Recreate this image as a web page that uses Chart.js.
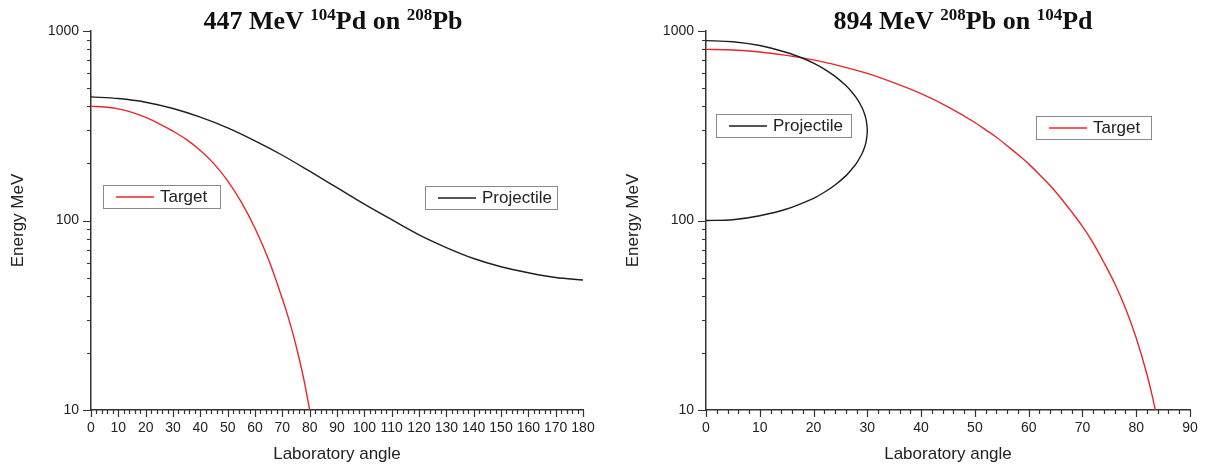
<!DOCTYPE html>
<html><head><meta charset="utf-8">
<script src="https://cdn.jsdelivr.net/npm/chart.js@4/dist/chart.umd.min.js"></script>
<style>
html,body{margin:0;padding:0;background:#fff;}
#left{position:absolute;left:0;top:0;width:600px;height:469px;}
#right{position:absolute;left:600px;top:0;width:609px;height:469px;}
</style></head><body>
<div id="left"><canvas id="c1"></canvas></div>
<div id="right"><canvas id="c2"></canvas></div>
<script>
// 447 MeV 104Pd on 208Pb
const leftProjAngle = [0,10,20,30,40,50,60,70,80,90,100,110,120,130,140,150,160,170,180];
const leftProjEnergy = [449,440,421,390,351,308,263,221,182,149,122,101,84,72,63,57,53,50,48.5];
const leftTargAngle = [0,5,10,15,20,25,30,35,40,45,50,55,60,65,70,72,74,76,78,80];
const leftTargEnergy = [400,397,388,372,350,324,296,267,234,199,162,125,91,62,38.6,31.4,24.9,19.1,14.2,10];

// 894 MeV 208Pb on 104Pd
const rightProjAngle = [0,5,10,15,18,20,22,24,26,27,28,29,29.5,29.8,30,29.8,29.5,29,28,27,26,24,22,20,15,10,5,0];
const rightProjEnergy = [890,878,838,770,718,676,629,576,516,481,442,395,364,338,298,263,244,225,201,185,172,154,141,131,115,106,101,100];
const rightTargAngle = [0,5,10,15,20,25,30,35,40,45,50,52,54,56,58,60,62,64,66,68,70,72,74,76,78,80,82,83,84];
const rightTargEnergy = [800,794,775,744,704,653,597,532,467,398,329,301,275,248,223,199,175,153,131,111,93,76,60,46.5,34.4,24,15.4,11.8,8.7];

const yTicks = [10,100,1000];

const RED = '#e8262e', BLACK = '#1e1e1e';

function pts(xs, ys){ return xs.map((x,i)=>({x:x, y:ys[i]})); }

const decor = {
  id:'decor',
  afterDraw(chart, args, o){
    const ctx = chart.ctx, xs = chart.scales.x, ys = chart.scales.y, a = chart.chartArea;
    ctx.save();
    ctx.strokeStyle = '#333'; ctx.lineWidth = 1.2;
    ctx.beginPath();
    for (let v = xs.min; v <= xs.max + 1e-9; v += 2) {
      const px = Math.round(xs.getPixelForValue(v)) + 0.5;
      const len = (Math.round(v) % 10 === 0) ? 7 : 4;
      ctx.moveTo(px, a.bottom); ctx.lineTo(px, a.bottom + len);
    }
    for (let d = 10; d <= 1000; d *= 10) {
      for (let m = 1; m < 10; m++) {
        const v = d*m; if (v > 1000) break;
        const py = Math.round(ys.getPixelForValue(v)) + 0.5;
        const len = m === 1 ? 8 : 4;
        ctx.moveTo(a.left, py); ctx.lineTo(a.left - len, py);
      }
    }
    ctx.stroke();

    // title with superscripts
    const big = "bold 26px 'Liberation Serif'", small = "bold 17px 'Liberation Serif'";
    let w = 0;
    o.title.forEach(s => { ctx.font = s.sup ? small : big; w += ctx.measureText(s.t).width; });
    let x = o.titleX - w/2;
    ctx.fillStyle = '#111'; ctx.textBaseline = 'alphabetic'; ctx.textAlign = 'left';
    o.title.forEach(s => {
      ctx.font = s.sup ? small : big;
      ctx.fillText(s.t, x, s.sup ? 20 : 29);
      x += ctx.measureText(s.t).width;
    });

    // legend boxes
    o.legend.forEach(l => {
      const ds = chart.data.datasets[l.index];
      const [x1,y1,x2,y2] = l.box;
      ctx.strokeStyle = '#8a8a8a'; ctx.lineWidth = 1;
      ctx.strokeRect(x1+0.5, y1+0.5, x2-x1, y2-y1);
      const cy = (y1+y2)/2;
      ctx.strokeStyle = ds.borderColor; ctx.lineWidth = 1.5;
      ctx.beginPath(); ctx.moveTo(x1+13, cy+0.5); ctx.lineTo(x1+51, cy+0.5); ctx.stroke();
      ctx.fillStyle = '#222'; ctx.font = "17px 'Liberation Sans'"; ctx.textBaseline = 'middle';
      ctx.fillText(ds.label, x1+57, cy+1);
    });
    ctx.restore();
  }
};

function makeChart(id, datasets, xMax, yWidth, padRight, yTitlePad, decorOpts){
  return new Chart(document.getElementById(id), {
    type:'scatter',
    data:{ datasets: datasets },
    plugins:[decor],
    options:{
      responsive:true, maintainAspectRatio:false, animation:false,
      layout:{ padding:{ top:31, right:padRight, left:0, bottom:0 } },
      plugins:{ legend:{display:false}, tooltip:{enabled:false}, decor:decorOpts },
      elements:{ point:{ radius:0 } },
      scales:{
        x:{
          type:'linear', min:0, max:xMax,
          afterFit(s){ s.height = 59; s.paddingLeft = 0; s.paddingRight = 0; },
          grid:{ display:true, drawOnChartArea:false, drawTicks:false },
          border:{ color:'#333', width:1.5 },
          ticks:{ stepSize:10, autoSkip:false, maxRotation:0, padding:10, color:'#222', font:{ family:'Liberation Sans', size:14 } },
          title:{ display:true, text:'Laboratory angle', color:'#222', padding:{ top:0, bottom:4 }, font:{ family:'Liberation Sans', size:17 } }
        },
        y:{
          type:'logarithmic', min:10, max:1000,
          afterFit(s){ s.width = yWidth; s.paddingTop = 0; s.paddingBottom = 0; },
          afterBuildTicks(s){ s.ticks = yTicks.map(v => ({ value:v })); },
          grid:{ display:true, drawOnChartArea:false, drawTicks:false },
          border:{ color:'#333', width:1.5 },
          ticks:{ padding:12, color:'#222', font:{ family:'Liberation Sans', size:14 }, callback:v => String(v) },
          title:{ display:true, text:'Energy MeV', color:'#222', padding:{ top:yTitlePad, bottom:0 }, font:{ family:'Liberation Sans', size:17 } }
        }
      }
    }
  });
}

makeChart('c1', [
  { label:'Target', data:pts(leftTargAngle, leftTargEnergy), showLine:true, borderColor:RED, borderWidth:1.4, cubicInterpolationMode:'monotone' },
  { label:'Projectile', data:pts(leftProjAngle, leftProjEnergy), showLine:true, borderColor:BLACK, borderWidth:1.4, cubicInterpolationMode:'monotone' }
], 180, 91, 17, 8, {
  titleX:333,
  title:[{t:'447 MeV '},{t:'104',sup:true},{t:'Pd on '},{t:'208',sup:true},{t:'Pb'}],
  legend:[{ index:0, box:[103,185,220,208] }, { index:1, box:[425,186,557,209] }]
});

makeChart('c2', [
  { label:'Projectile', data:pts(rightProjAngle, rightProjEnergy), showLine:true, borderColor:BLACK, borderWidth:1.4, tension:0.3 },
  { label:'Target', data:pts(rightTargAngle, rightTargEnergy), showLine:true, borderColor:RED, borderWidth:1.4, cubicInterpolationMode:'monotone' }
], 90, 106, 19, 23, {
  titleX:363,
  title:[{t:'894 MeV '},{t:'208',sup:true},{t:'Pb on '},{t:'104',sup:true},{t:'Pd'}],
  legend:[{ index:0, box:[116,114,251,137] }, { index:1, box:[436,116,551,139] }]
});
</script>
</body></html>
